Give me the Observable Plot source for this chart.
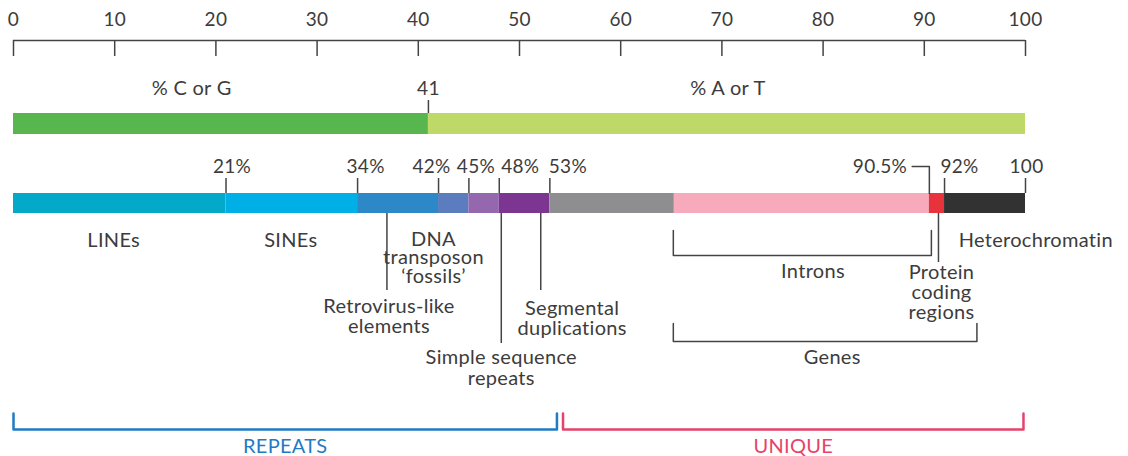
<!DOCTYPE html>
<html><head><meta charset="utf-8">
<script src="https://cdn.jsdelivr.net/npm/d3@7"></script>
<script src="https://cdn.jsdelivr.net/npm/@observablehq/plot@0.6"></script>
<style>body{margin:0;background:#fff} svg text{letter-spacing:0.3px}</style>
</head><body><div id="chart"></div>
<script>
// ---- data ----
const axisTicks = [0,10,20,30,40,50,60,70,80,90,100];
const gcSplit = 41;
const gcBars = [{name:"% C or G", x1:0, x2:41}, {name:"% A or T", x1:41, x2:100}];
const segNames = ["LINEs","SINEs","Retrovirus-like elements","DNA transposon 'fossils'","Simple sequence repeats","Segmental duplications","Other unique","Introns","Protein coding regions","Heterochromatin"];
const segStarts = [0,21,34,42,45,48,53,65.3,90.5,92];
const segEnds   = [21,34,42,45,48,53,65.3,90.5,92,100];
const boundaryTicks = [21,34,42,45,48,53,92,100];
const boundaryLabels = ["21%","34%","42%","45%","48%","53%","92%","100"];
const groups = [{name:"REPEATS", x1:0, x2:53.7}, {name:"UNIQUE", x1:54.3, x2:99.8}];

// ---- styles / layout ----
const segColors = ["#04a8c8","#00afe6","#2d88c8","#5b7cbe","#9567ae","#7d3592","#8e8e90","#f6aabb","#e8323c","#333233"];
const groupColors = ["#1f7bc4","#e6436a"];
const ink = "#3c3c3c", lineC = "#444";
const font = "Lato, 'Open Sans', sans-serif";
const fs = 19, fsw = 20;

const segs = segNames.map((n,i)=>({name:n, x1:segStarts[i], x2:segEnds[i], fill:segColors[i]}));
const bLabelDx = [6,8,-7,7,21,18,15,1];
const bticks = boundaryTicks.map((v,i)=>({v, label:boundaryLabels[i], dx:bLabelDx[i]}));

const calloutLines = [
  {x:36.9, y1:213, y2:290},
  {x:48.2, y1:213, y2:343},
  {x:52.1, y1:213, y2:290},
  {x:91.4, y1:213, y2:262}
];
const bracket = (a,b,top,bot)=>[{x:a,y:top},{x:a,y:bot},{x:b,y:bot},{x:b,y:top}];

const labels = [
  {x:9.9, y:240, t:"LINEs", lh:1.0},
  {x:27.4, y:240, t:"SINEs", lh:1.0},
  {x:41.5, y:258, t:"DNA\ntransposon\n\u2018fossils\u2019", lh:0.92},
  {x:37.1, y:316, t:"Retrovirus-like\nelements", lh:1.0},
  {x:48.2, y:367, t:"Simple sequence\nrepeats", lh:1.05},
  {x:55.2, y:318, t:"Segmental\nduplications", lh:1.0},
  {x:79, y:271, t:"Introns", lh:1.0},
  {x:91.7, y:292, t:"Protein\ncoding\nregions", lh:1.02},
  {x:80.9, y:357, t:"Genes", lh:1.0}
];

const plot = Plot.plot({
  width:1128, height:456,
  marginLeft:13, marginRight:103, marginTop:0, marginBottom:0,
  x:{domain:[0,100], axis:null},
  y:{type:"identity", axis:null},
  style:{fontFamily:font, fontSize:fs+"px", color:ink, background:"#fff"},
  marks:[
    // top axis
    Plot.ruleY([40], {x1:0, x2:100, stroke:lineC, strokeWidth:1.5}),
    Plot.ruleX(axisTicks, {x:d=>d, y1:40, y2:56, stroke:lineC, strokeWidth:1.5}),
    Plot.text(axisTicks, {x:d=>d, y:19, text:d=>String(d), fill:ink, fontSize:fs}),
    // GC bar
    Plot.rect(gcBars, {x1:"x1", x2:"x2", y1:113, y2:134, fill:(d,i)=>i===0?"#57b74e":"#bfd968"}),
    Plot.ruleX([gcSplit], {y1:100, y2:113, stroke:lineC, strokeWidth:1.5}),
    Plot.text([gcSplit], {x:d=>d, y:88, text:d=>String(d), fill:ink, fontSize:fs}),
    Plot.text([{x:17.6,t:"% C or G"},{x:70.6,t:"% A or T"}], {x:"x", y:88, text:"t", fill:ink, fontSize:fsw}),
    // segment bar
    Plot.rect(segs, {x1:"x1", x2:"x2", y1:193, y2:213, fill:"fill"}),
    Plot.ruleX(bticks, {x:"v", y1:178, y2:193, stroke:lineC, strokeWidth:1.5}),
    ...bticks.map(b=>Plot.text([b], {x:"v", y:166, text:"label", dx:b.dx, fill:ink, fontSize:fs})),
    // 90.5% callout
    Plot.line([{x:88.8,y:166},{x:90.5,y:166},{x:90.5,y:193}], {x:"x", y:"y", stroke:lineC, strokeWidth:1.5}),
    Plot.text([90.5], {x:88.3, y:166, text:d=>d+"%", textAnchor:"end", fill:ink, fontSize:fs}),
    // callout lines
    Plot.ruleX(calloutLines, {x:"x", y1:"y1", y2:"y2", stroke:lineC, strokeWidth:1.5}),
    Plot.line(bracket(65.2,90.7,230,255), {x:"x", y:"y", stroke:lineC, strokeWidth:1.5}),
    Plot.line(bracket(65.2,95.2,323,341), {x:"x", y:"y", stroke:lineC, strokeWidth:1.5}),
    Plot.text([{x:93.4,t:"Heterochromatin"}], {x:"x", y:240, text:"t", textAnchor:"start", fill:ink, fontSize:fsw}),
    ...labels.map(l=>Plot.text([l], {x:"x", y:"y", text:"t", fill:ink, fontSize:fsw, lineHeight:l.lh})),
    // group brackets
    ...groups.map((g,i)=>Plot.line(bracket(g.x1,g.x2,413,429), {x:"x", y:"y", stroke:groupColors[i], strokeWidth:2.5})),
    Plot.text(groups, {x:d=>(d.x1+d.x2)/2, y:446, text:"name", fill:(d,i)=>groupColors[i], fontSize:fsw})
  ]
});
document.getElementById("chart").appendChild(plot);
</script>
</body></html>
